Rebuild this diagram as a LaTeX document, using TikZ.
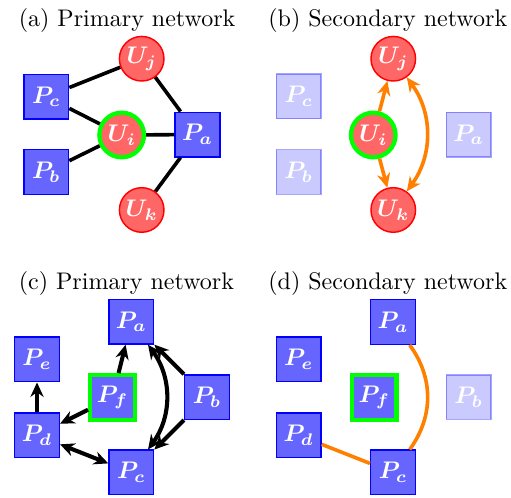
\documentclass[tikz,border=0pt]{standalone}
\usepackage{amsmath}
\usepackage{amssymb}
\usetikzlibrary{arrows.meta}
\tikzset{
    pn/.style={draw=blue,fill=blue!60,semithick,minimum size=0.653cm,inner sep=0pt,text=white},
    un/.style={pn,circle,draw=red,fill=red!60},
    hub/.style={draw=green,line width=1.8pt},
    faded/.style={opacity=0.35,text opacity=1},
    link/.style={line width=1.5pt},
    flow/.style={line width=1.7pt},
    sec/.style={draw=orange,line width=1.5pt},
    arc/.style={bend left=36},
}

\begin{document}
\begin{tikzpicture}[>={Stealth[length=6pt,width=5.5pt]}]
    \useasboundingbox (0,0) rectangle (7.483,-7.292);
    \node[anchor=base west] (ta) at (0.151,-0.395) {(a) Primary network};
    \node[anchor=base west] (tb) at (3.806,-0.395) {(b) Secondary network};
    \node[anchor=base west] (tc) at (0.151,-4.236) {(c) Primary network};
    \node[anchor=base west] (td) at (3.806,-4.236) {(d) Secondary network};

    \node[un] (Uj1) at (2.075,-0.86) {$\boldsymbol{U_j}$};
    \node[pn] (Pc1) at (0.678,-1.416) {$\boldsymbol{P_c}$};
    \node[un,hub] (Ui1) at (1.782,-1.977) {$\boldsymbol{U_i}$};
    \node[pn] (Pa1) at (2.892,-1.97) {$\boldsymbol{P_a}$};
    \node[pn] (Pb1) at (0.678,-2.519) {$\boldsymbol{P_b}$};
    \node[un] (Uk1) at (2.075,-3.075) {$\boldsymbol{U_k}$};
    \draw[link] (Pc1) -- (Uj1);
    \draw[link] (Pc1) -- (Ui1);
    \draw[link] (Pb1) -- (Ui1);
    \draw[link] (Ui1) -- (Pa1);
    \draw[link] (Uj1) -- (Pa1);
    \draw[link] (Uk1) -- (Pa1);

    \node[un] (Uj2) at (5.759,-0.86) {$\boldsymbol{U_j}$};
    \node[pn,faded] (Pc2) at (4.374,-1.41) {$\boldsymbol{P_c}$};
    \node[un,hub] (Ui2) at (5.466,-1.977) {$\boldsymbol{U_i}$};
    \node[pn,faded] (Pa2) at (6.863,-1.972) {$\boldsymbol{P_a}$};
    \node[pn,faded] (Pb2) at (4.374,-2.519) {$\boldsymbol{P_b}$};
    \node[un] (Uk2) at (5.759,-3.075) {$\boldsymbol{U_k}$};
    \draw[sec,->] (Ui2) -- (Uj2);
    \draw[sec,->] (Ui2) -- (Uk2);
    \draw[sec,<->] (Uj2) to[arc] (Uk2);

    \node[pn] (Pa3) at (1.923,-4.711) {$\boldsymbol{P_a}$};
    \node[pn] (Pe3) at (0.542,-5.264) {$\boldsymbol{P_e}$};
    \node[pn,hub] (Pf3) at (1.647,-5.821) {$\boldsymbol{P_f}$};
    \node[pn] (Pb3) at (3.031,-5.816) {$\boldsymbol{P_b}$};
    \node[pn] (Pd3) at (0.542,-6.374) {$\boldsymbol{P_d}$};
    \node[pn] (Pc3) at (1.923,-6.919) {$\boldsymbol{P_c}$};
    \draw[flow,->] (Pf3) -- (Pa3);
    \draw[flow,->] (Pf3) -- (Pd3);
    \draw[flow,->] (Pd3) -- (Pe3);
    \draw[flow,->] (Pb3) -- (Pa3);
    \draw[flow,->] (Pb3) -- (Pc3);
    \draw[flow,<->] (Pd3) -- (Pc3);
    \draw[flow,<->] (Pa3) to[arc] (Pc3);

    \node[pn] (Pa4) at (5.755,-4.715) {$\boldsymbol{P_a}$};
    \node[pn] (Pe4) at (4.374,-5.264) {$\boldsymbol{P_e}$};
    \node[pn,hub] (Pf4) at (5.48,-5.821) {$\boldsymbol{P_f}$};
    \node[pn,faded] (Pb4) at (6.863,-5.816) {$\boldsymbol{P_b}$};
    \node[pn] (Pd4) at (4.374,-6.374) {$\boldsymbol{P_d}$};
    \node[pn] (Pc4) at (5.755,-6.919) {$\boldsymbol{P_c}$};
    \draw[sec] (Pa4) to[arc] (Pc4);
    \draw[sec] (Pd4) -- (Pc4);
\end{tikzpicture}
\end{document}
